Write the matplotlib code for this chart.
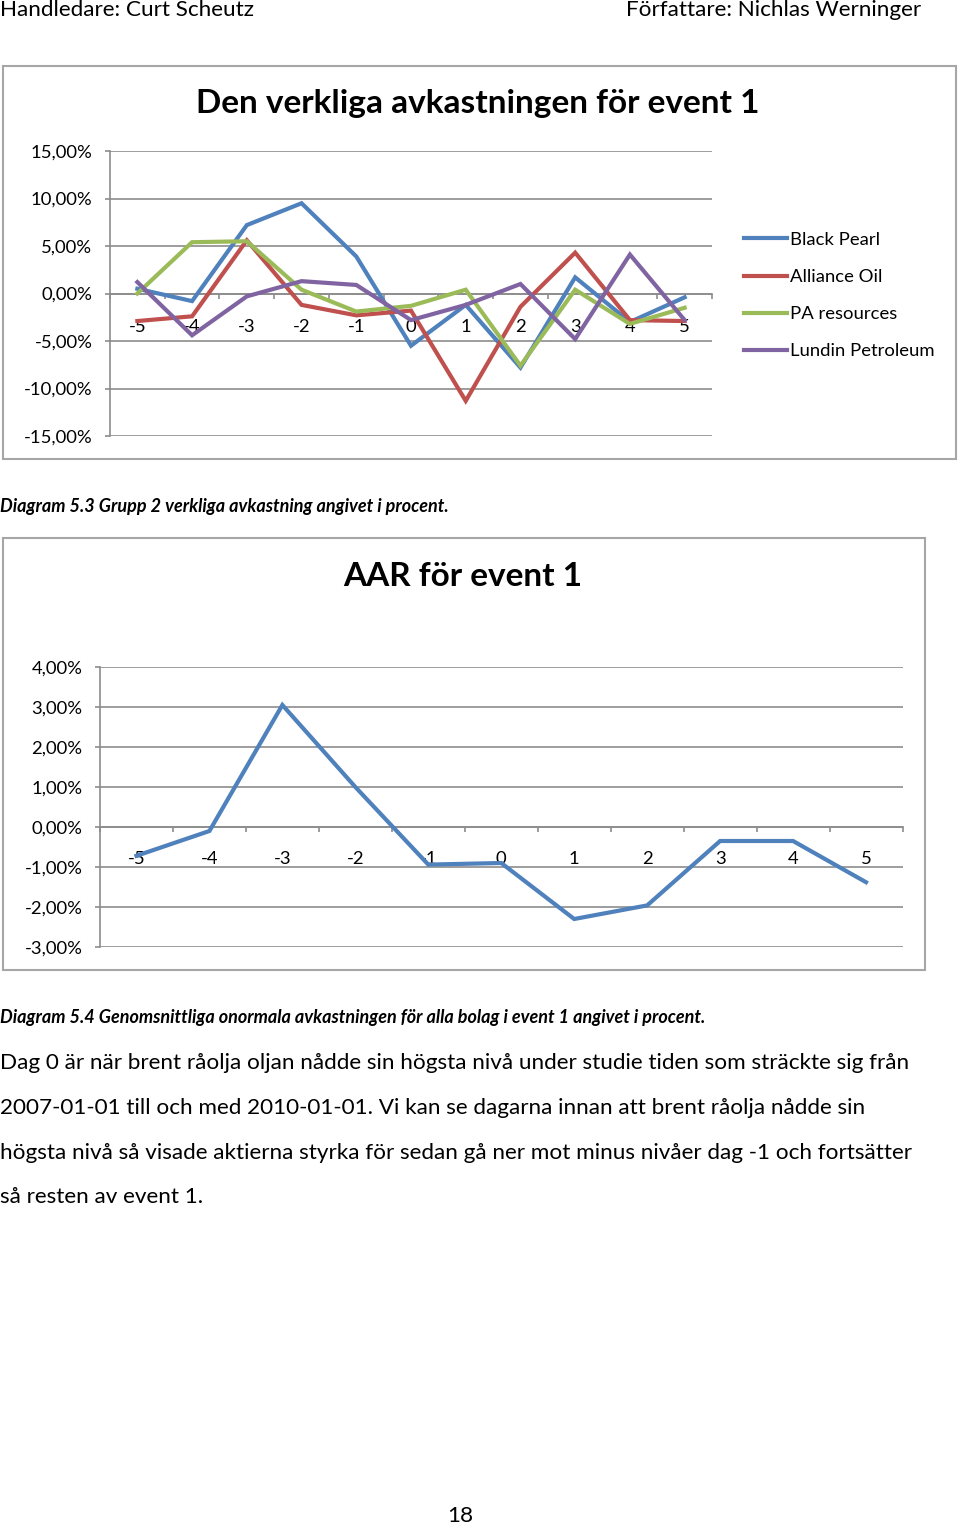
import matplotlib
matplotlib.use("Agg")
import matplotlib.pyplot as plt
from matplotlib.patches import Rectangle
from matplotlib.ticker import FuncFormatter, FixedLocator
import numpy as np

plt.rcParams['font.family'] = ['Lato', 'DejaVu Sans']

# data (percent)
days = [-5, -4, -3, -2, -1, 0, 1, 2, 3, 4, 5]
black_pearl = [0.5, -0.8, 7.2, 9.5, 3.9, -5.5, -1.2, -7.8, 1.7, -3.0, -0.4]
alliance_oil = [-2.9, -2.4, 5.6, -1.2, -2.3, -1.8, -11.3, -1.4, 4.3, -2.8, -2.9]
pa_resources = [0.0, 5.4, 5.5, 0.4, -1.9, -1.3, 0.4, -7.6, 0.4, -3.2, -1.5]
lundin = [1.2, -4.4, -0.3, 1.3, 0.9, -2.8, -1.2, 1.0, -4.8, 4.1, -2.8]
series_names = ["Black Pearl", "Alliance Oil", "PA resources", "Lundin Petroleum"]
series_colors = ["#4F81BD", "#C0504D", "#9BBB59", "#8064A2"]

aar = [-0.72, -0.1, 3.05, 1.0, -0.94, -0.9, -2.3, -1.96, -0.35, -0.35, -1.38]

paragraph = [
    "Dag 0 är när brent råolja oljan nådde sin högsta nivå under studie tiden som sträckte sig från",
    "2007-01-01 till och med 2010-01-01. Vi kan se dagarna innan att brent råolja nådde sin",
    "högsta nivå så visade aktierna styrka för sedan gå ner mot minus nivåer dag -1 och fortsätter",
    "så resten av event 1.",
]

W, H = 960, 1526
fig = plt.figure(figsize=(W / 100, H / 100), dpi=100)
GRID = "#8C8C8C"
TICK_FS = 13.3
BODY_FS = 16.2
CAP_FS = 13
TITLE_FS = 24


def box(x0, y0, x1, y1):
    # pixel rect (top-left origin) -> figure fraction
    return [x0 / W, 1 - y1 / H, (x1 - x0) / W, (y1 - y0) / H]


def pct(v, _):
    return f"{v:.2f}".replace(".", ",") + "%"


def style_axes(ax, ymin, ymax, ystep, xpad):
    ax.set_xlim(-5.5, 5.5)
    ax.set_ylim(ymin, ymax)
    ax.set_yticks(np.arange(ymin, ymax + 0.01, ystep))
    ax.yaxis.set_major_formatter(FuncFormatter(pct))
    ax.set_xticks(days)
    ax.set_xticklabels([str(d) for d in days])
    ax.xaxis.set_minor_locator(FixedLocator(np.arange(-5.5, 6, 1)))
    ax.grid(axis="y", color=GRID, linewidth=1.2, zorder=0)
    for s in ["top", "right"]:
        ax.spines[s].set_visible(False)
    ax.spines["bottom"].set_position(("data", 0))
    ax.spines["bottom"].set_color(GRID)
    ax.spines["left"].set_color(GRID)
    ax.spines["bottom"].set_linewidth(1.2)
    ax.spines["left"].set_linewidth(1.2)
    ax.tick_params(axis="y", length=3.6, width=1.2, color=GRID, pad=9, labelsize=TICK_FS)
    ax.tick_params(axis="x", which="major", length=0, pad=xpad, labelsize=TICK_FS)
    ax.tick_params(axis="x", which="minor", length=3.6, width=1.2, color=GRID, direction="out")
    ax.set_facecolor("none")


# header
fig.text(0, 1 - 10 / H, "Handledare: Curt Scheutz", fontsize=BODY_FS, ha="left", va="center")
fig.text(921 / W, 1 - 10 / H, "Författare: Nichlas Werninger", fontsize=BODY_FS, ha="right", va="center")

# chart frames
fig.patches.append(Rectangle((3 / W, 1 - 459 / H), 953 / W, 393 / H, transform=fig.transFigure,
                             fill=False, edgecolor="#A6A6A6", linewidth=1.5))
fig.patches.append(Rectangle((3 / W, 1 - 970 / H), 922 / W, 432 / H, transform=fig.transFigure,
                             fill=False, edgecolor="#A6A6A6", linewidth=1.5))

# top chart
ax1 = fig.add_axes(box(110, 151, 712, 436))
style_axes(ax1, -15, 15, 5, 18)
for vals, name, col in zip([black_pearl, alliance_oil, pa_resources, lundin], series_names, series_colors):
    ax1.plot(days, vals, color=col, linewidth=3, label=name, zorder=3, solid_joinstyle="miter")
ax1.legend(loc="center left", bbox_to_anchor=((744 - 110) / 602, (436 - 295.5) / 285),
           frameon=False, fontsize=TICK_FS, handlelength=2.32, handletextpad=0.16,
           labelspacing=1.14, borderpad=0, borderaxespad=0)
fig.text(478 / W, 1 - 104 / H, "Den verkliga avkastningen för event 1", fontsize=TITLE_FS,
         fontweight="bold", ha="center", va="center")

fig.text(0, 1 - 506 / H, "Diagram 5.3 Grupp 2 verkliga avkastning angivet i procent.",
         fontsize=CAP_FS, fontweight="bold", fontstyle="italic", ha="left", va="center")

# bottom chart
ax2 = fig.add_axes(box(100, 667, 902.5, 947))
style_axes(ax2, -3, 4, 1, 17.5)
ax2.plot(days, aar, color="#4F81BD", linewidth=3, zorder=3, solid_joinstyle="miter")
fig.text(463 / W, 1 - 576 / H, "AAR för event 1", fontsize=TITLE_FS, fontweight="bold",
         ha="center", va="center")

fig.text(0, 1 - 1017 / H,
         "Diagram 5.4 Genomsnittliga onormala avkastningen för alla bolag i event 1 angivet i procent.",
         fontsize=CAP_FS, fontweight="bold", fontstyle="italic", ha="left", va="center")

# body text
for i, line in enumerate(paragraph):
    fig.text(0, 1 - (1063 + 44.8 * i) / H, line, fontsize=BODY_FS, ha="left", va="center")

fig.text(460 / W, 1 - 1516 / H, "18", fontsize=BODY_FS, ha="center", va="center")

fig.savefig("out.png", dpi=100, facecolor="white")
